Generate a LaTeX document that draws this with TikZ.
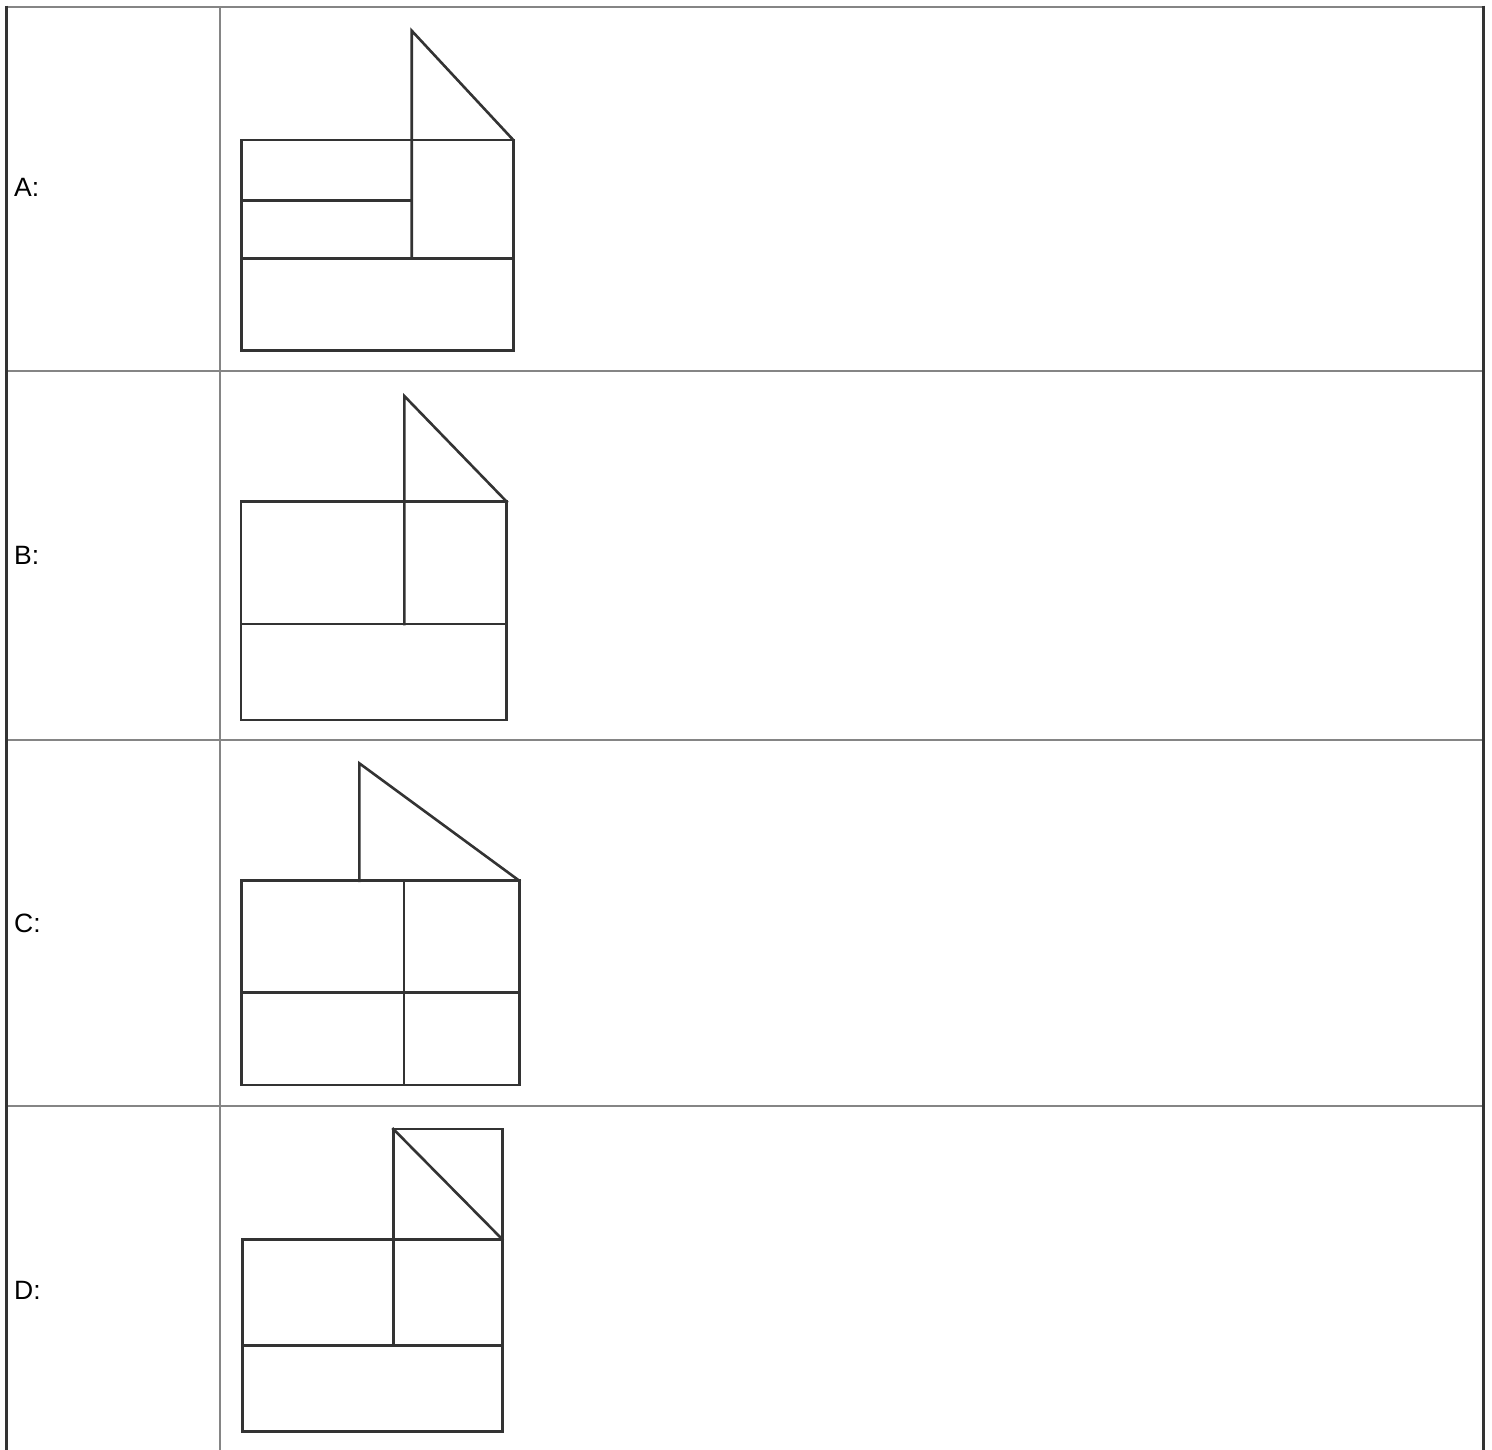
\documentclass[tikz,border=0pt]{standalone}
\usepackage{fontspec}
\setmainfont{Liberation Sans}
\definecolor{gridgray}{HTML}{858585}
\definecolor{darkline}{HTML}{333333}
\begin{document}
\begin{tikzpicture}[x=1pt,y=-1pt,
  gridline/.style={draw=gridgray,line width=2pt},
  outerline/.style={draw=darkline,line width=3pt},
  figline/.style={draw=darkline,line width=2.6pt,line join=miter,line cap=rect},
  rowlabel/.style={anchor=base west,inner sep=0pt,font=\fontsize{26.5}{30}\selectfont}]
\useasboundingbox (0,0) rectangle (1492,1450);
% table
\draw[gridline] (5,6.7) -- (1485,6.7);
\draw[gridline] (5,370.5) -- (1485,370.5);
\draw[gridline] (5,740) -- (1485,740);
\draw[gridline] (5,1106) -- (1485,1106);
\draw[gridline] (220,6.7) -- (220,1450);
\draw[outerline] (6,5.7) -- (6,1450);
\draw[outerline] (1483.5,5.7) -- (1483.5,1450);
% labels
\node[rowlabel] (la) at (14,197) {A:};
\node[rowlabel] (lb) at (14,564) {B:};
\node[rowlabel] (lc) at (14,932) {C:};
\node[rowlabel] (ld) at (14,1299) {D:};
% figure A
\draw[figline] (241.7,140) rectangle (513.3,350.7);
\draw[figline] (241.7,258.3) -- (513.3,258.3);
\draw[figline] (241.7,200.7) -- (411.7,200.7);
\draw[figline] (411.7,258.3) -- (411.7,30.7) -- (513.3,140);
% figure B
\draw[figline] (241,501.7) rectangle (506.7,720);
\draw[figline] (241,624) -- (506.7,624);
\draw[figline] (404.3,624) -- (404.3,396) -- (506.7,501.7);
% figure C
\draw[figline] (241.7,880.7) rectangle (519.3,1085);
\draw[figline] (241.7,992.7) -- (519.3,992.7);
\draw[figline] (404,880.7) -- (404,1085);
\draw[figline] (359.3,880.7) -- (359.3,763.3) -- (519.3,880.7);
% figure D
\draw[figline] (242.3,1239.3) rectangle (502.3,1431.7);
\draw[figline] (242.3,1345.7) -- (502.3,1345.7);
\draw[figline] (393.3,1345.7) -- (393.3,1129) -- (502.3,1129) -- (502.3,1239.3);
\draw[figline] (393.3,1129) -- (502.3,1239.3);
\end{tikzpicture}
\end{document}
